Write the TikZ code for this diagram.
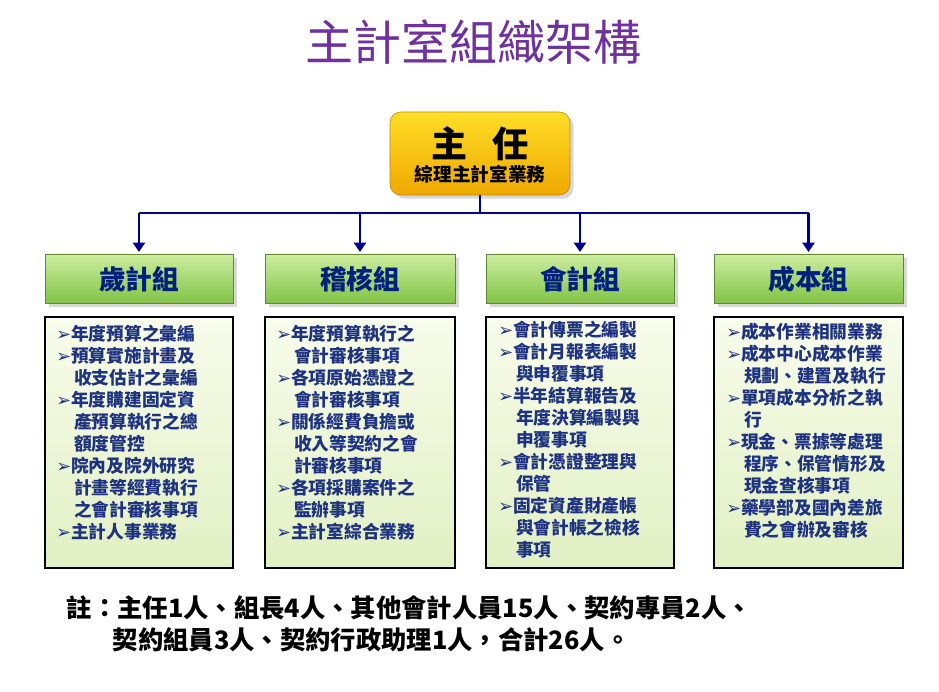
\documentclass[tikz,border=0pt]{standalone}
\usepackage{fontspec}
\setmainfont{Noto Sans CJK TC}
\newfontfamily\symfont{DejaVu Sans}
\usetikzlibrary{arrows.meta,shadows}
\definecolor{titlepurple}{RGB}{112,48,160}
\definecolor{linkblue}{RGB}{0,0,140}
\definecolor{grouptext}{RGB}{0,32,128}
\definecolor{itemtext}{RGB}{30,50,130}
\definecolor{chiefA}{RGB}{255,222,40}
\definecolor{chiefB}{RGB}{240,168,0}
\definecolor{groupA}{RGB}{205,238,160}
\definecolor{groupB}{RGB}{130,195,70}
\definecolor{dutyA}{RGB}{248,252,235}
\definecolor{dutyB}{RGB}{225,240,195}
\newcommand{\bul}{{\symfont\char"27A2}}
\newcommand{\ind}{\hspace*{1em}}
\tikzset{
  chiefbox/.style={draw=chiefB!80!black, rounded corners=8pt, top color=chiefA, bottom color=chiefB, drop shadow={opacity=0.3}},
  groupbox/.style={draw=groupB!70!black, top color=groupA, bottom color=groupB, drop shadow={opacity=0.3}},
  dutybox/.style={draw=black, line width=0.8pt, top color=dutyA, bottom color=dutyB},
  dutytext/.style={anchor=north west, align=left, text=itemtext, inner sep=0pt, font=\bfseries\fontsize{13.3}{16.5}\selectfont},
  link/.style={draw=linkblue, line width=2.2pt},
  arrowlink/.style={link, -{Triangle[length=7pt,width=9pt]}}
}
\begin{document}
\begin{tikzpicture}[x=0.75pt,y=-0.75pt]
\useasboundingbox[fill=white] (0,0) rectangle (939,692);
% title
\node[text=titlepurple, font=\fontsize{36}{36}\selectfont] (title) at (473,42) {主計室組織架構};
% chief
\draw[chiefbox] (390,112) rectangle (570,195);
\node[font=\bfseries\fontsize{27}{27}\selectfont] (chief) at (480,144) {主\hspace{0.7em}任};
\node[font=\bfseries\fontsize{14}{14}\selectfont] (chiefduty) at (480,174) {綜理主計室業務};
\coordinate (top) at (480,195);
\coordinate (split) at (480,213);
% groups
\foreach \name/\xa/\xb/\lab in {budget/45/233/歲計組, audit/265/455/稽核組, account/486/674/會計組, cost/714/903/成本組}{
  \draw[groupbox] (\xa,254) rectangle (\xb,303);
  \node[text=grouptext, font=\bfseries\fontsize{20}{20}\selectfont] (\name) at ({(\xa+\xb)/2},279) {\lab};
  \coordinate (\name-top) at ({(\xa+\xb)/2},252);
  \coordinate (\name-bar) at ({(\xa+\xb)/2},213);
  \draw[dutybox] (\xa,317) rectangle (\xb,568);
}
\draw[link] (top) -- (split);
\draw[link] (budget-bar) -- (cost-bar);
\foreach \name in {budget,audit,account,cost}
  \draw[arrowlink] (\name-bar) -- (\name-top);
% duties
\node[dutytext] (budgetduty) at (56,325) {\bul 年度預算之彙編\\ \bul 預算實施計畫及\\ \ind 收支估計之彙編\\ \bul 年度購建固定資\\ \ind 產預算執行之總\\ \ind 額度管控\\ \bul 院內及院外研究\\ \ind 計畫等經費執行\\ \ind 之會計審核事項\\ \bul 主計人事業務};
\node[dutytext] (auditduty) at (276,325) {\bul 年度預算執行之\\ \ind 會計審核事項\\ \bul 各項原始憑證之\\ \ind 會計審核事項\\ \bul 關係經費負擔或\\ \ind 收入等契約之會\\ \ind 計審核事項\\ \bul 各項採購案件之\\ \ind 監辦事項\\ \bul 主計室綜合業務};
\node[dutytext] (accountduty) at (498,321) {\bul 會計傳票之編製\\ \bul 會計月報表編製\\ \ind 與申覆事項\\ \bul 半年結算報告及\\ \ind 年度決算編製與\\ \ind 申覆事項\\ \bul 會計憑證整理與\\ \ind 保管\\ \bul 固定資產財產帳\\ \ind 與會計帳之檢核\\ \ind 事項};
\node[dutytext] (costduty) at (726,323) {\bul 成本作業相關業務\\ \bul 成本中心成本作業\\ \ind 規劃、建置及執行\\ \bul 單項成本分析之執\\ \ind 行\\ \bul 現金、票據等處理\\ \ind 程序、保管情形及\\ \ind 現金查核事項\\ \bul 藥學部及國內差旅\\ \ind 費之會辦及審核};
% note
\node[anchor=west, font=\bfseries\fontsize{19}{19}\selectfont] (note1) at (62,608) {註：主任1人、組長4人、其他會計人員15人、契約專員2人、};
\node[anchor=west, font=\bfseries\fontsize{19}{19}\selectfont] (note2) at (108,640) {契約組員3人、契約行政助理1人，合計26人。};
\end{tikzpicture}
\end{document}
